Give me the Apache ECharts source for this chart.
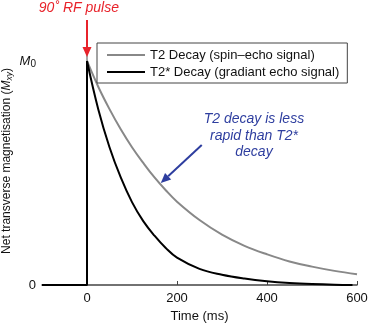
<!DOCTYPE html>
<html><head><meta charset="utf-8">
<script src="https://cdn.jsdelivr.net/npm/echarts@6/dist/echarts.min.js"></script>
<style>html,body{margin:0;padding:0;background:#fff}#c{width:370px;height:325px}</style>
</head><body><div id="c"></div>
<script>
// ---- data ----
const xTicks = [0, 200, 400, 600];
const yTicks = [0, 1];
const t2Times  = [0, 25, 50, 75, 100, 125, 150, 175, 200, 250, 300, 350, 400, 450, 500, 550, 600];
const t2Values = [1.0, 0.885, 0.785, 0.695, 0.615, 0.545, 0.48, 0.423, 0.372, 0.29, 0.225, 0.175, 0.137, 0.105, 0.082, 0.063, 0.048];
const t2sTimes  = [0, 25, 50, 75, 100, 125, 150, 175, 200, 250, 300, 350, 400, 450, 500, 550, 590];
const t2sValues = [1.0, 0.785, 0.615, 0.48, 0.37, 0.285, 0.22, 0.165, 0.122, 0.072, 0.046, 0.029, 0.017, 0.009, 0.004, 0.001, 0.0];
const pulseTimes  = [-100, 0, 0];
const pulseValues = [0, 0, 1];
const seriesNames = ['T2 Decay (spin\u2013echo signal)', 'T2* Decay (gradiant echo signal)'];

const zip = (a, b) => a.map((v, i) => [v, b[i]]);
const FONT = 'Liberation Sans, Arial, sans-serif';
const chart = echarts.init(document.getElementById('c'));
chart.setOption({
  animation: false,
  grid: { left: 42, right: 13, top: 37, bottom: 40, outerBoundsMode: 'none', containLabel: false },
  legend: {
    data: seriesNames, orient: 'vertical', left: 97, top: 43,
    icon: 'rect', itemWidth: 38, itemHeight: 2,
    padding: [5, 8, 4, 10], itemGap: 3,
    borderColor: '#444', borderWidth: 1, backgroundColor: '#fff',
    textStyle: { fontFamily: FONT, fontSize: 13, color: '#111', lineHeight: 14 }
  },
  xAxis: {
    type: 'value', min: -100, max: 600,
    name: 'Time (ms)', nameLocation: 'middle', nameGap: 25, nameMoveOverlap: false,
    nameTextStyle: { fontFamily: FONT, fontSize: 13, color: '#111' },
    axisLine: { lineStyle: { color: '#444', width: 1.5 } },
    axisTick: { inside: true, length: 4, customValues: xTicks, lineStyle: { color: '#444' } },
    axisLabel: { customValues: xTicks, fontFamily: FONT, fontSize: 13, color: '#111', margin: 7 },
    splitLine: { show: false }
  },
  yAxis: {
    type: 'value', min: 0, max: 1.107,
    name: '{a|Net transverse magnetisation (}{m|M}{s|xy}{a|)}',
    nameLocation: 'middle', nameGap: 28, nameRotate: 90, nameMoveOverlap: false,
    nameTextStyle: { rich: {
      a: { fontFamily: FONT, fontSize: 12, color: '#111' },
      m: { fontFamily: FONT, fontSize: 12, color: '#111', fontStyle: 'italic' },
      s: { fontFamily: FONT, fontSize: 8.5, color: '#111', fontStyle: 'italic', padding: [5, 0, 0, 0] }
    } },
    axisLine: { show: true, lineStyle: { color: '#888', width: 1.5 } },
    axisTick: { show: false },
    axisLabel: {
      customValues: yTicks, margin: 6,
      formatter: v => v === 1 ? '{m|M}{s|0}' : '{a|0}',
      rich: {
        a: { fontFamily: FONT, fontSize: 13, color: '#111' },
        m: { fontFamily: FONT, fontSize: 13, color: '#111', fontStyle: 'italic' },
        s: { fontFamily: FONT, fontSize: 10, color: '#111', padding: [6, 0, 0, 0] }
      }
    },
    splitLine: { show: false }
  },
  series: [
    { name: seriesNames[0], type: 'line', data: zip(t2Times, t2Values), symbol: 'none',
      smooth: 0.4, lineStyle: { color: '#888', width: 2 }, itemStyle: { color: '#888' }, z: 2 },
    { name: seriesNames[1], type: 'line', data: zip(t2sTimes, t2sValues), symbol: 'none',
      smooth: 0.4, lineStyle: { color: '#000', width: 2 }, itemStyle: { color: '#000' }, z: 3 },
    { name: 'pulse', type: 'line', data: zip(pulseTimes, pulseValues), symbol: 'none',
      lineStyle: { color: '#000', width: 2 }, itemStyle: { color: '#000' }, z: 3 }
  ]
});

// ---- annotations (positions in data coordinates) ----
const annRed = { tail: [0, 1.183], tip: [0, 1.018], text: [-18, 1.235] };
const annBlue = { tail: [255, 0.625], tip: [164, 0.455], text: [371, 0.665] };
const px = p => chart.convertToPixel({ gridIndex: 0 }, p);
function arrow(a, b, color) {
  const [x1, y1] = px(a), [x2, y2] = px(b);
  const ang = Math.atan2(y2 - y1, x2 - x1), L = 10, W = 4.5;
  const bx = x2 - L * Math.cos(ang), by = y2 - L * Math.sin(ang);
  const nx = -Math.sin(ang), ny = Math.cos(ang);
  return [
    { type: 'line', shape: { x1, y1, x2: bx, y2: by }, style: { stroke: color, lineWidth: 2 }, silent: true, z: 10 },
    { type: 'polygon', shape: { points: [[x2, y2], [bx + nx * W, by + ny * W], [bx - nx * W, by - ny * W]] },
      style: { fill: color }, silent: true, z: 10 }
  ];
}
const RED = '#e8232b', BLUE = '#2e3e9f';
const rt = px(annRed.text), bt = px(annBlue.text);
chart.setOption({ graphic: [
  ...arrow(annRed.tail, annRed.tip, RED),
  ...arrow(annBlue.tail, annBlue.tip, BLUE),
  { type: 'text', x: rt[0], y: rt[1], silent: true,
    style: { text: '90\u02DA RF pulse', fill: RED, font: 'italic 14px ' + FONT, align: 'center', verticalAlign: 'middle' } },
  { type: 'text', x: bt[0], y: bt[1], silent: true,
    style: { text: 'T2 decay is less\nrapid than T2*\ndecay', fill: BLUE, font: 'italic 14px ' + FONT,
      lineHeight: 16.5, align: 'center', verticalAlign: 'middle' } }
] });
</script></body></html>
